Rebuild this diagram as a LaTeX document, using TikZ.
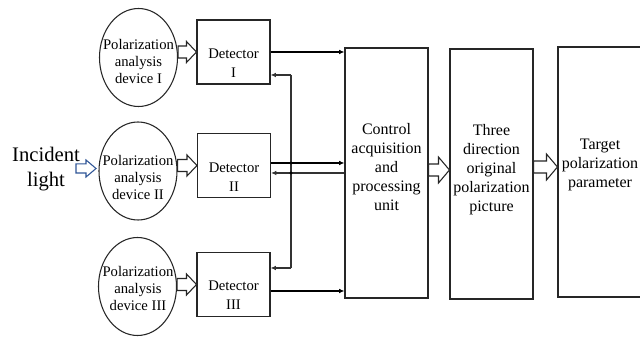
\documentclass[tikz,border=0pt]{standalone}
\usepackage{fontspec}
\setmainfont{Liberation Serif}
\usetikzlibrary{shapes.geometric,arrows.meta,calc}
\newcommand\hollowarrow[6]{% style, start, end, shaft half, head half, head length
  \draw[#1] let \p1=#2, \p2=#3 in
    (\x1,\y2+#4) -- (\x2-#6,\y2+#4) -- (\x2-#6,\y2+#5) -- (\x2,\y2)
    -- (\x2-#6,\y2-#5) -- (\x2-#6,\y2-#4) -- (\x1,\y2-#4) -- cycle;}
\begin{document}
\begin{tikzpicture}[x=0.75pt,y=-0.75pt,
  box/.style={draw=black!85,line width=0.8pt,inner sep=0pt,anchor=center},
  detbox/.style={box,minimum width=54.75pt,minimum height=48pt},
  bigbox/.style={box,minimum width=62.25pt,minimum height=187.5pt},
  ellbox/.style={ellipse,draw=black!85,line width=0.8pt,inner sep=0pt,minimum width=58.5pt,minimum height=73.5pt},
  elltext/.style={align=center,inner sep=0pt,font=\fontsize{11}{12.75}\selectfont},
  dettext/.style={align=center,inner sep=0pt,font=\fontsize{11}{14.25}\selectfont},
  bigtext/.style={align=center,inner sep=0pt,font=\fontsize{12}{14.25}\selectfont},
  hollow/.style={draw=black!85,line width=0.8pt,fill=white},
  bluehollow/.style={draw={rgb,255:red,47;green,85;blue,151},line width=0.8pt,fill=white},
  sig/.style={line width=1pt,black,-{Latex[length=4pt,width=3.5pt]}},
  fb/.style={line width=0.8pt,black!80},
  fbarrow/.style={fb,-{Latex[length=4pt,width=3.5pt]}}
]
\clip (0,0) rectangle (640,338);
\fill[white] (0,0) rectangle (640,338);

% ellipses
\node[ellbox] (e1) at (138.5,57.5) {};
\node[ellbox] (e2) at (138,171) {};
\node[ellbox] (e3) at (137.5,286.5) {};
\node[elltext] (e1t) at (138.5,61) {Polarization\\analysis\\device I};
\node[elltext] (e2t) at (138,177) {Polarization\\analysis\\device II};
\node[elltext] (e3t) at (138,288) {Polarization\\analysis\\device III};

% detectors
\node[detbox] (d1) at (233.5,52) {};
\node[detbox] (d2) at (234,165.5) {};
\node[detbox] (d3) at (233.5,284.5) {};
\node[dettext] (d1t) at (233.5,63) {Detector\\I};
\node[dettext] (d2t) at (234,177.5) {Detector\\II};
\node[dettext] (d3t) at (233.5,295) {Detector\\III};

% big boxes
\node[bigbox] (ctrl) at (386.5,173) {};
\node[bigbox] (three) at (491.5,174) {};
\node[box,minimum width=63pt,minimum height=187.5pt] (target) at (600,172) {};
\node[bigtext] (ctrlt) at (386.5,167) {Control\\acquisition\\and\\processing\\unit};
\node[bigtext] (threet) at (491.5,170) {Three\\direction\\original\\polarization\\picture};
\node[bigtext] (targett) at (600,165) {Target\\polarization\\parameter};

% incident light
\node[align=center,inner sep=0pt,font=\fontsize{15.5}{18.75}\selectfont] (inc) at (46,169.5) {Incident\\light};
\coordinate (incs) at (76,168.5);
\coordinate (inct) at (96,168.5);
\hollowarrow{bluehollow}{(incs)}{(inct)}{3.4pt}{6.4pt}{7.5pt}

% hollow arrows ellipse -> detector
\hollowarrow{hollow}{(e1.east)}{(d1.west)}{4.5pt}{7.9pt}{7.5pt}
\hollowarrow{hollow}{(e2.east)}{(d2.west)}{4.5pt}{7.9pt}{7.5pt}
\hollowarrow{hollow}{(e3.east)}{(d3.west)}{4.5pt}{7.9pt}{7.5pt}
% hollow arrows between big boxes
\hollowarrow{hollow}{(ctrl.east)}{([yshift=3pt]three.west)}{4.5pt}{9.75pt}{8.25pt}
\hollowarrow{hollow}{(three.east)}{([yshift=3.75pt]target.west)}{4.5pt}{9.75pt}{8.25pt}

% signal lines detector -> control
\draw[sig] (d1.east) -- (d1.east -| ctrl.west);
\draw[sig] ([yshift=1.875pt]d2.east) -- ([yshift=1.875pt]d2.east -| ctrl.west);
\draw[sig] ([yshift=-4.875pt]d3.east) -- ([yshift=-4.875pt]d3.east -| ctrl.west);

% feedback lines control -> detectors
\coordinate (bt) at (291,75);
\coordinate (bb) at (291,268);
\draw[fb] (bt) -- (bb);
\draw[fbarrow] (bt) -- (bt -| d1.east);
\draw[fbarrow] (bb) -- (bb -| d3.east);
\draw[fbarrow] ([yshift=-5.625pt]d2.east -| ctrl.west) -- ([yshift=-5.625pt]d2.east);
\fill ([yshift=1.875pt]d2.east -| bt) circle (1.2pt);
\fill ([yshift=-5.625pt]d2.east -| bt) circle (1.2pt);
\end{tikzpicture}
\end{document}
